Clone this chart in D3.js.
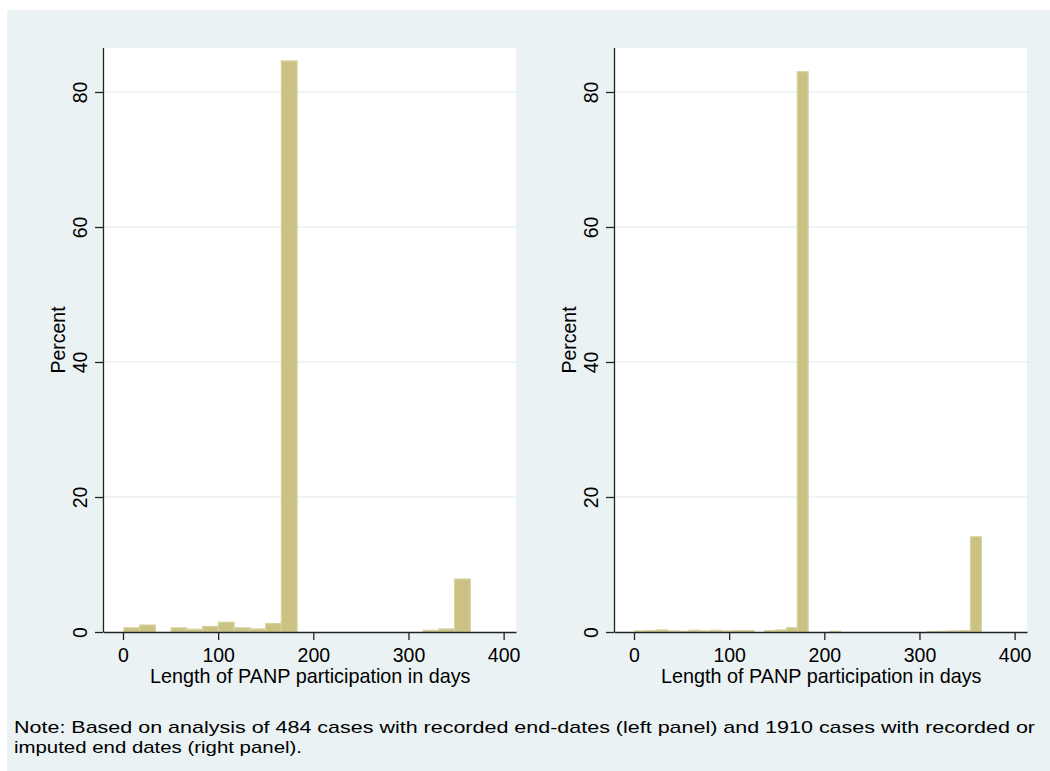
<!DOCTYPE html>
<html>
<head>
<meta charset="utf-8">
<script src="https://cdnjs.cloudflare.com/ajax/libs/d3/7.8.5/d3.min.js"></script>
<style>
  body { margin: 0; background: #ffffff; }
  text { font-family: "Liberation Sans", Arial, sans-serif; fill: #000; }
</style>
</head>
<body>
<div id="chart-area"></div>
<script>
// Histogram data (percent per bin)
var leftPercent = [0.62, 1.03, 0, 0.62, 0.41, 0.83, 1.45, 0.62, 0.45, 1.24, 84.6,
                   0, 0, 0, 0, 0, 0, 0, 0, 0.25, 0.45, 7.85];
var leftBinStart = 1;
var leftBinWidth = 16.545;

var rightPercent = [0.16, 0.21, 0.31, 0.16, 0.1, 0.26, 0.16, 0.26, 0.16, 0.21, 0.21,
                    0, 0.21, 0.31, 0.63, 83.0, 0, 0, 0.1, 0, 0, 0, 0, 0, 0, 0, 0,
                    0.05, 0.1, 0.16, 0.21, 14.1];
var rightBinStart = 1;
var rightBinWidth = 11.375;

var xTicks = [0, 100, 200, 300, 400];
var yTicks = [0, 20, 40, 60, 80];
var yGrid = [20, 40, 60, 80];

var xTitle = "Length of PANP participation in days";
var yTitle = "Percent";
var noteLines = [
    "Note: Based on analysis of 484 cases with recorded end-dates (left panel) and 1910 cases with recorded or",
    "imputed end dates (right panel)."
];

var width = 1050;
var height = 771;

var svg = d3.select("#chart-area")
    .append("svg")
    .attr("width", width)
    .attr("height", height);

// graph region background
svg.append("rect")
    .attr("x", 7)
    .attr("y", 10)
    .attr("width", width - 7)
    .attr("height", height - 10)
    .attr("fill", "#eaf2f3");

var plotW = 413;
var plotH = 584;

function drawPanel(left, values, binStart, binWidth) {
    var g = svg.append("g")
        .attr("transform", "translate(" + left + ",48)");

    var x = d3.scaleLinear()
        .domain([-21, 413])
        .range([0, plotW]);

    var y = d3.scaleLinear()
        .domain([0, 86.5])
        .range([plotH, plotH - 86.5 * 6.75]);

    g.append("rect")
        .attr("width", plotW)
        .attr("height", plotH)
        .attr("fill", "#ffffff");

    g.selectAll("line.grid")
        .data(yGrid)
        .enter()
        .append("line")
            .attr("class", "grid")
            .attr("x1", 0)
            .attr("x2", plotW)
            .attr("y1", function(d) { return y(d); })
            .attr("y2", function(d) { return y(d); })
            .attr("stroke", "#eaf2f3")
            .attr("stroke-width", 1.5);

    var bins = values.map(function(v, i) {
        return { x0: binStart + i * binWidth, x1: binStart + (i + 1) * binWidth, value: v };
    }).filter(function(d) { return d.value > 0; });

    g.selectAll("rect.bar")
        .data(bins)
        .enter()
        .append("rect")
            .attr("class", "bar")
            .attr("x", function(d) { return x(d.x0); })
            .attr("width", function(d) { return x(d.x1) - x(d.x0); })
            .attr("y", function(d) { return y(d.value); })
            .attr("height", function(d) { return y(0) - y(d.value); })
            .attr("fill", "#cac282")
            .attr("stroke", "#d8d1a0")
            .attr("stroke-width", 1.2);

    // x axis
    var xAxisCall = d3.axisBottom(x)
        .tickValues(xTicks)
        .tickSize(8)
        .tickPadding(8)
        .tickSizeOuter(0);

    var xAxisGroup = g.append("g")
        .attr("transform", "translate(0," + plotH + ")")
        .call(xAxisCall);
    xAxisGroup.select(".domain").attr("stroke", "#222").attr("stroke-width", 1.3);
    xAxisGroup.selectAll(".tick line").attr("stroke", "#222").attr("stroke-width", 1.3);
    xAxisGroup.selectAll(".tick text")
        .attr("font-size", "19.5px")
        .attr("font-family", "Liberation Sans, Arial, sans-serif")
        .attr("fill", "#000");

    // y axis
    var yAxisCall = d3.axisLeft(y)
        .tickValues(yTicks)
        .tickSize(8)
        .tickSizeOuter(0);

    var yAxisGroup = g.append("g").call(yAxisCall);
    yAxisGroup.select(".domain").attr("d", "M0.5,0V" + plotH)
        .attr("stroke", "#222").attr("stroke-width", 1.3);
    yAxisGroup.selectAll(".tick line").attr("stroke", "#222").attr("stroke-width", 1.3);
    yAxisGroup.selectAll(".tick text")
        .attr("font-size", "19.5px")
        .attr("font-family", "Liberation Sans, Arial, sans-serif")
        .attr("fill", "#000")
        .attr("x", null)
        .attr("dy", null)
        .attr("text-anchor", "middle")
        .attr("transform", "translate(-16,0) rotate(-90)");

    g.append("text")
        .attr("x", x(200) - 3)
        .attr("y", plotH + 51)
        .attr("font-size", "19.8px")
        .attr("text-anchor", "middle")
        .text(xTitle);

    g.append("text")
        .attr("transform", "translate(-38," + (plotH / 2) + ") rotate(-90)")
        .attr("font-size", "19.5px")
        .attr("text-anchor", "middle")
        .text(yTitle);
}

drawPanel(103, leftPercent, leftBinStart, leftBinWidth);
drawPanel(614, rightPercent, rightBinStart, rightBinWidth);

// note text is stretched wide, like the exported original
var noteWidths = [1021, 288];
svg.selectAll("text.note")
    .data(noteLines)
    .enter()
    .append("text")
        .attr("class", "note")
        .attr("x", 14)
        .attr("y", function(d, i) { return 733 + i * 19.5; })
        .attr("font-size", "17px")
        .attr("textLength", function(d, i) { return noteWidths[i]; })
        .attr("lengthAdjust", "spacingAndGlyphs")
        .text(function(d) { return d; });
</script>
</body>
</html>
